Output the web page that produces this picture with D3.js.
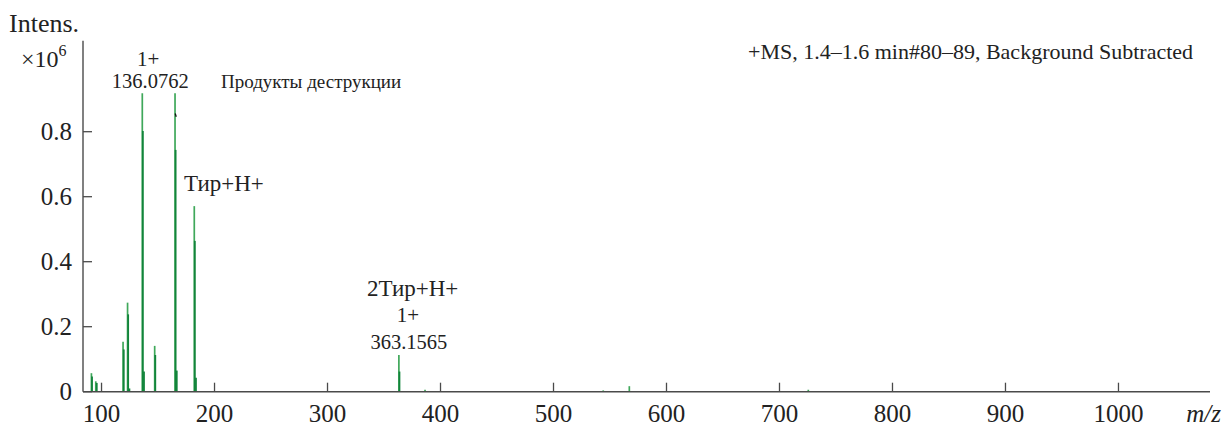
<!DOCTYPE html>
<html>
<head>
<meta charset="utf-8">
<script src="https://cdn.jsdelivr.net/npm/d3@7"></script>
<style>
  html, body { margin: 0; padding: 0; background: #fff; }
  svg { display: block; }
</style>
</head>
<body>
<svg id="chart" width="1227" height="426" font-family="'Liberation Serif', 'Times New Roman', serif"></svg>
<script>
// Centroid peaks (m/z) and intensities (×10^6)
const peakMz        = [91.05, 94.9, 119.05, 123.04, 136.0762, 147.04, 165.05, 182.08, 363.1565, 386.3, 544.0, 567.1, 725.5];
const peakIntensity = [0.057, 0.032, 0.154, 0.274, 0.918, 0.141, 0.918, 0.571, 0.113, 0.006, 0.004, 0.017, 0.006];

// Profile shoulders drawn just to the right of the main sticks
const shoulderMz        = [92.1, 96.3, 120.2, 124.1, 125.2, 137.1, 138.1, 148.1, 166.1, 167.1, 183.1, 184.1, 364.2];
const shoulderIntensity = [0.047, 0.027, 0.130, 0.238, 0.010, 0.802, 0.062, 0.113, 0.744, 0.065, 0.464, 0.043, 0.062];

const xTicks = [100, 200, 300, 400, 500, 600, 700, 800, 900, 1000];
const yTicks = [0, 0.2, 0.4, 0.6, 0.8];
const yTickLabels = ["0", "0.2", "0.4", "0.6", "0.8"];

const svg = d3.select("#chart");
const W = 1227, H = 426;
const serif = "'Liberation Serif', 'Times New Roman', serif";
svg.append("rect").attr("width", W).attr("height", H).attr("fill", "#fff");

const x = d3.scaleLinear().domain([83.6, 1081]).range([83, 1210]);
const y = d3.scaleLinear().domain([0, 1.08]).range([391.7, 40.7]);

const axisColor = "#4a4a4a";
const textColor = "#222";

// sticks
const g = svg.append("g");
g.selectAll("line.main")
  .data(d3.zip(peakMz, peakIntensity))
  .join("line")
  .attr("class", "main")
  .attr("x1", d => x(d[0])).attr("x2", d => x(d[0]))
  .attr("y1", y(0)).attr("y2", d => y(d[1]))
  .attr("stroke", "#3fa85a").attr("stroke-width", 1.7);

g.selectAll("line.shoulder")
  .data(d3.zip(shoulderMz, shoulderIntensity))
  .join("line")
  .attr("class", "shoulder")
  .attr("x1", d => x(d[0]) - 0.6).attr("x2", d => x(d[0]) - 0.6)
  .attr("y1", y(0)).attr("y2", d => y(d[1]))
  .attr("stroke", "#12843b").attr("stroke-width", 1.8);

// small pointer mark on the 165 peak
svg.append("line")
  .attr("x1", x(165.05) + 0.2).attr("y1", y(0.856))
  .attr("x2", x(165.05) + 1.2).attr("y2", y(0.846))
  .attr("stroke", "#111").attr("stroke-width", 1.3);

// x axis
const xAxis = svg.append("g").attr("transform", `translate(0,${y(0)})`);
xAxis.append("line").attr("x1", x.range()[0]).attr("x2", x.range()[1])
  .attr("stroke", axisColor).attr("stroke-width", 1.4);
xAxis.selectAll("line.tick").data(xTicks).join("line")
  .attr("class", "tick")
  .attr("x1", d => x(d)).attr("x2", d => x(d))
  .attr("y1", 0).attr("y2", -9)
  .attr("stroke", axisColor).attr("stroke-width", 1.3);
xAxis.selectAll("text").data(xTicks).join("text")
  .attr("x", d => x(d)).attr("y", 30)
  .attr("text-anchor", "middle")
  .attr("font-family", serif)
  .attr("font-size", 25).attr("fill", textColor)
  .text(d => d);

svg.append("text")
  .attr("x", 1221).attr("y", y(0) + 30)
  .attr("text-anchor", "end")
  .attr("font-family", serif)
  .attr("font-size", 25).attr("font-style", "italic").attr("fill", textColor)
  .text("m/z");

// y axis
const yAxis = svg.append("g").attr("transform", `translate(${x.range()[0]},0)`);
yAxis.append("line").attr("y1", y.range()[1]).attr("y2", y.range()[0])
  .attr("stroke", axisColor).attr("stroke-width", 1.4);
yAxis.selectAll("line.tick").data(yTicks).join("line")
  .attr("class", "tick")
  .attr("x1", 0).attr("x2", 9)
  .attr("y1", d => y(d)).attr("y2", d => y(d))
  .attr("stroke", axisColor).attr("stroke-width", 1.3);
yAxis.selectAll("text").data(yTicks).join("text")
  .attr("x", -11).attr("y", d => y(d) + 8.5)
  .attr("text-anchor", "end")
  .attr("font-family", serif)
  .attr("font-size", 25).attr("fill", textColor)
  .text((d, i) => yTickLabels[i]);

// axis title
svg.append("text").attr("x", 9).attr("y", 32)
  .attr("font-family", serif)
  .attr("font-size", 26).attr("fill", textColor).text("Intens.");
const mult = svg.append("text").attr("x", 21).attr("y", 67)
  .attr("font-family", serif)
  .attr("font-size", 24).attr("fill", textColor);
mult.append("tspan").text("×10");
mult.append("tspan").attr("dy", -11).attr("font-size", 16).text("6");

// annotations
function label(txt, xx, yy, anchor, size) {
  svg.append("text").attr("x", xx).attr("y", yy)
    .attr("text-anchor", anchor || "start")
    .attr("font-family", serif)
    .attr("font-size", size || 21).attr("fill", textColor)
    .text(txt);
}
label("1+", x(136.0762) + 6, 66, "middle");
label("136.0762", x(136.0762) + 8, 88, "middle", 20.5);
label("Продукты деструкции", 221, 88, "start", 19);
label("+MS, 1.4\u20131.6 min#80\u201389, Background Subtracted", 748, 59, "start", 22);
label("Тир+Н+", 184, 191, "start", 23);
label("2Тир+Н+", 367, 296, "start", 23);
label("1+", x(363.1565) + 9, 322, "middle");
label("363.1565", x(363.1565) + 10, 349, "middle", 20.5);
</script>
</body>
</html>
